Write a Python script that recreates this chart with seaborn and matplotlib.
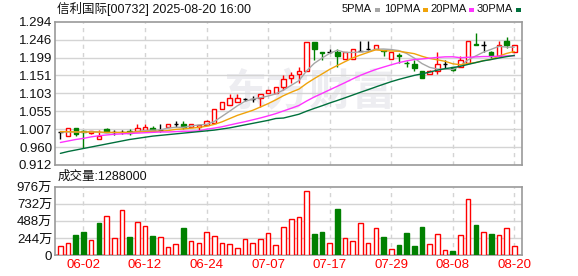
import numpy as np
import pandas as pd
import matplotlib
matplotlib.use("Agg")
import matplotlib.pyplot as plt
import seaborn as sns
from matplotlib.patches import Rectangle

dates = ["05-28", "05-29", "05-30", "06-02", "06-03", "06-04", "06-05", "06-06", "06-09", "06-10",
         "06-11", "06-12", "06-13", "06-16", "06-17", "06-18", "06-19", "06-20", "06-23", "06-24",
         "06-25", "06-26", "06-27", "06-30", "07-02", "07-03", "07-04", "07-07", "07-08", "07-09",
         "07-10", "07-11", "07-14", "07-15", "07-16", "07-17", "07-18", "07-21", "07-22", "07-23",
         "07-24", "07-25", "07-28", "07-29", "07-30", "07-31", "08-01", "08-04", "08-05", "08-06",
         "08-07", "08-08", "08-11", "08-12", "08-13", "08-14", "08-15", "08-18", "08-19", "08-20"]

opens = [1.000, 0.990, 1.010, 1.002, 0.996, 0.982, 1.009, 1.000, 1.000, 1.003,
         1.002, 1.004, 1.010, 1.005, 1.012, 1.021, 1.021, 1.012, 1.012, 1.019,
         1.023, 1.062, 1.071, 1.080, 1.088, 1.089, 1.090, 1.103, 1.103, 1.121,
         1.143, 1.154, 1.162, 1.241, 1.212, 1.214, 1.214, 1.194, 1.194, 1.217,
         1.221, 1.220, 1.219, 1.195, 1.205, 1.185, 1.181, 1.162, 1.154, 1.163,
         1.181, 1.172, 1.174, 1.183, 1.234, 1.232, 1.213, 1.203, 1.243, 1.214]
highs = [1.000, 1.010, 1.010, 1.004, 1.002, 1.006, 1.010, 1.005, 1.004, 1.009,
         1.022, 1.022, 1.016, 1.022, 1.021, 1.028, 1.028, 1.021, 1.019, 1.032,
         1.060, 1.080, 1.101, 1.101, 1.091, 1.096, 1.100, 1.111, 1.120, 1.151,
         1.161, 1.172, 1.241, 1.241, 1.212, 1.220, 1.221, 1.213, 1.220, 1.243,
         1.243, 1.232, 1.219, 1.213, 1.210, 1.190, 1.192, 1.162, 1.164, 1.213,
         1.192, 1.174, 1.203, 1.243, 1.263, 1.243, 1.215, 1.243, 1.254, 1.232]
lows = [0.980, 0.990, 0.988, 0.958, 0.995, 0.981, 0.999, 0.993, 0.995, 0.993,
        1.002, 1.004, 1.000, 1.000, 1.012, 1.012, 1.007, 1.012, 1.006, 1.019,
        1.023, 1.062, 1.071, 1.080, 1.083, 1.081, 1.067, 1.103, 1.103, 1.112,
        1.130, 1.131, 1.162, 1.192, 1.192, 1.211, 1.172, 1.194, 1.194, 1.215,
        1.219, 1.220, 1.203, 1.195, 1.183, 1.174, 1.163, 1.143, 1.154, 1.154,
        1.170, 1.163, 1.174, 1.183, 1.232, 1.213, 1.198, 1.203, 1.223, 1.214]
closes = [1.000, 1.010, 0.995, 1.000, 1.002, 0.990, 1.000, 1.000, 1.000, 0.997,
          1.010, 1.013, 1.003, 1.005, 1.021, 1.021, 1.012, 1.021, 1.019, 1.028,
          1.060, 1.080, 1.090, 1.091, 1.088, 1.089, 1.100, 1.111, 1.120, 1.140,
          1.151, 1.162, 1.241, 1.221, 1.210, 1.214, 1.203, 1.213, 1.220, 1.217,
          1.221, 1.232, 1.216, 1.213, 1.203, 1.183, 1.170, 1.143, 1.162, 1.181,
          1.181, 1.166, 1.192, 1.243, 1.232, 1.232, 1.203, 1.232, 1.232, 1.232]

# volume in units of 万 (10,000 shares)
volumes = [128, 167, 281, 329, 214, 457, 552, 238, 638, 257,
           471, 414, 271, 252, 110, 152, 386, 200, 171, 329,
           267, 171, 152, 95, 224, 171, 224, 314, 138, 395,
           509, 548, 914, 300, 329, 167, 657, 238, 200, 452,
           171, 381, 257, 81, 143, 314, 128, 400, 152, 300,
           67, 57, 281, 795, 429, 329, 300, 281, 381, 128.8]
vol_up = [1, 1, 0, 0, 1, 0, 1, 1, 1, 0,
          1, 1, 0, 1, 1, 1, 0, 1, 1, 1,
          1, 1, 1, 1, 1, 1, 1, 1, 1, 1,
          1, 1, 1, 0, 0, 1, 0, 1, 1, 1,
          1, 1, 0, 1, 0, 0, 0, 0, 1, 1,
          1, 0, 1, 1, 0, 1, 0, 1, 1, 1]

ma5_head = [1.000, 1.000, 1.000, 0.999]
ma10_head = [1.001, 1.001, 1.000, 1.000, 1.000, 1.000, 0.999, 0.999, 0.999]
ma20_head = [0.972, 0.976, 0.980, 0.983, 0.987, 0.990, 0.992, 0.994, 0.995, 0.996,
             0.997, 0.998, 0.999, 1.000, 1.000, 1.001, 1.002, 1.002, 1.003]
ma30_head = [0.943, 0.948, 0.952, 0.956, 0.960, 0.964, 0.968, 0.972, 0.976, 0.980,
             0.983, 0.986, 0.989, 0.991, 0.993, 0.995, 0.997, 0.999, 1.001, 1.003,
             1.005, 1.008, 1.011, 1.015, 1.019, 1.023, 1.027, 1.031, 1.036]

price_tick_labels = ["0.912", "0.960", "1.007", "1.055", "1.103", "1.151", "1.199", "1.246", "1.294"]
vol_tick_values = [0, 244, 488, 732, 976]
vol_tick_labels = ["0", "244万", "488万", "732万", "976万"]
date_tick_labels = ["06-02", "06-12", "06-24", "07-07", "07-17", "07-29", "08-08", "08-20"]
ma_names = ["5PMA", "10PMA", "20PMA", "30PMA"]
ma_colors = ["#a6a6a6", "#f0a30a", "#ff33ff", "#00703c"]
title_text = "信利国际[00732] 2025-08-20 16:00"

sns.set_style("white")
plt.rcParams['font.family'] = ['Liberation Sans', 'Noto Sans CJK SC', 'DejaVu Sans']

df = pd.DataFrame({"date": dates, "open": opens, "high": highs, "low": lows,
                   "close": closes, "vol": volumes, "vol_up": vol_up})
df["idx"] = np.arange(len(df))

heads = [ma5_head, ma10_head, ma20_head, ma30_head]
ma_frames = []
for name, n, head in zip(ma_names, [5, 10, 20, 30], heads):
    s = df["close"].rolling(n).mean()
    s.iloc[:n - 1] = head
    ma_frames.append(pd.DataFrame({"idx": df["idx"], "value": s, "ma": name}))
ma_long = pd.concat(ma_frames, ignore_index=True)

W, H = 578, 276
fig = plt.figure(figsize=(W / 100, H / 100), dpi=100)
L, R = 55, 522
axp = fig.add_axes([L / W, (H - 165) / H, (R - L) / W, (165 - 21.7) / H])
axv = fig.add_axes([L / W, (H - 255) / H, (R - L) / W, (255 - 186.7) / H])

xlo, xhi = -0.7, 60.0
tick_idx = [dates.index(d) for d in date_tick_labels]
grid_c = "#d4d4d4"
spine_c = "#9a9a9a"

# ---- price panel
ymin, ymax = 0.912, 1.294
yt = np.linspace(ymin, ymax, 9)
for y in yt[1:-1]:
    axp.axhline(y, color=grid_c, lw=1.0, zorder=1)
for t in tick_idx:
    axp.axvline(t, color=grid_c, lw=1.0, ls=(0, (3, 3)), zorder=1)

axp.text((310 - L) / (R - L), (165 - 92) / (165 - 21.7), "东方财富", transform=axp.transAxes,
         fontsize=31, color="#ededf1", fontweight="bold", family=["Noto Sans CJK SC"],
         ha="center", va="center", zorder=0.5)

bw = 0.58
up = df[df.close > df.open]
dn = df[df.close < df.open]
dj = df[df.close == df.open]
axp.vlines(up.idx, up.low, up.high, color="#ff0000", lw=1.0, zorder=2)
axp.bar(up.idx, up.close - up.open, bottom=up.open, width=bw, facecolor="white",
        edgecolor="#ff0000", linewidth=1.0, zorder=3)
axp.vlines(dn.idx, dn.low, dn.high, color="#008000", lw=1.0, zorder=2)
axp.bar(dn.idx, dn.close - dn.open, bottom=dn.open, width=bw, facecolor="#008000",
        edgecolor="#008000", linewidth=1.0, zorder=3)
axp.vlines(dj.idx, dj.low, dj.high, color="black", lw=1.0, zorder=2)
axp.hlines(dj.close, dj.idx - bw / 2, dj.idx + bw / 2, color="black", lw=1.0, zorder=3)

sns.lineplot(data=ma_long, x="idx", y="value", hue="ma", palette=dict(zip(ma_names, ma_colors)),
             ax=axp, legend=False, linewidth=1.0, zorder=4)

axp.set_xlim(xlo, xhi)
axp.set_ylim(ymin, ymax)
axp.set_yticks(yt)
axp.set_yticklabels(price_tick_labels)
axp.set_xticks([])
axp.set_xlabel("")
axp.set_ylabel("")

# ---- volume panel
for y in vol_tick_values[1:-1]:
    axv.axhline(y, color=grid_c, lw=1.0, zorder=1)
for t in tick_idx:
    axv.axvline(t, color=grid_c, lw=1.0, ls=(0, (3, 3)), zorder=1)
vu = df[df.vol_up == 1]
vd = df[df.vol_up == 0]
axv.bar(vu.idx, vu.vol, width=0.6, facecolor="white", edgecolor="#ff0000", linewidth=1.0, zorder=3)
axv.bar(vd.idx, vd.vol, width=0.6, facecolor="#008000", edgecolor="#008000", linewidth=1.0, zorder=3)
axv.set_xlim(xlo, xhi)
axv.set_ylim(0, 976)
axv.set_yticks(vol_tick_values)
axv.set_yticklabels(vol_tick_labels)
axv.set_xticks(tick_idx)
axv.set_xticklabels(date_tick_labels, color="#ff0000")

for ax in (axp, axv):
    for sp in ax.spines.values():
        sp.set_color(spine_c)
        sp.set_linewidth(1.2)
        sp.set_visible(True)
    ax.tick_params(axis="both", length=0, labelsize=9.5, pad=2)
    ax.tick_params(axis="y", colors="#111111", labelcolor="#111111")
axv.tick_params(axis="x", labelcolor="#ff0000", pad=3)

# ---- header texts
fig.text(57 / W, 1 - 9.5 / H, title_text, fontsize=9, va="center", ha="left", color="#111111")
leg_x = [342, 384, 430, 477]
for name, col, x in zip(ma_names, ma_colors, leg_x):
    fig.text(x / W, 1 - 9.5 / H, name, fontsize=8, va="center", ha="left", color="#111111")
fig.canvas.draw()
rend = fig.canvas.get_renderer()
for txt in fig.texts[1:]:
    bb = txt.get_window_extent(rend)
    col = ma_colors[ma_names.index(txt.get_text())]
    fig.add_artist(Rectangle(((bb.x1 + 3) / W, (H - 12) / H), 5 / W, 4 / H,
                             transform=fig.transFigure, facecolor=col, edgecolor="none"))

fig.text(58 / W, 1 - 177 / H, f"成交量:{int(round(volumes[-1] * 10000))}", fontsize=9,
         va="center", ha="left", color="#111111")

fig.savefig("out.png", dpi=100)
